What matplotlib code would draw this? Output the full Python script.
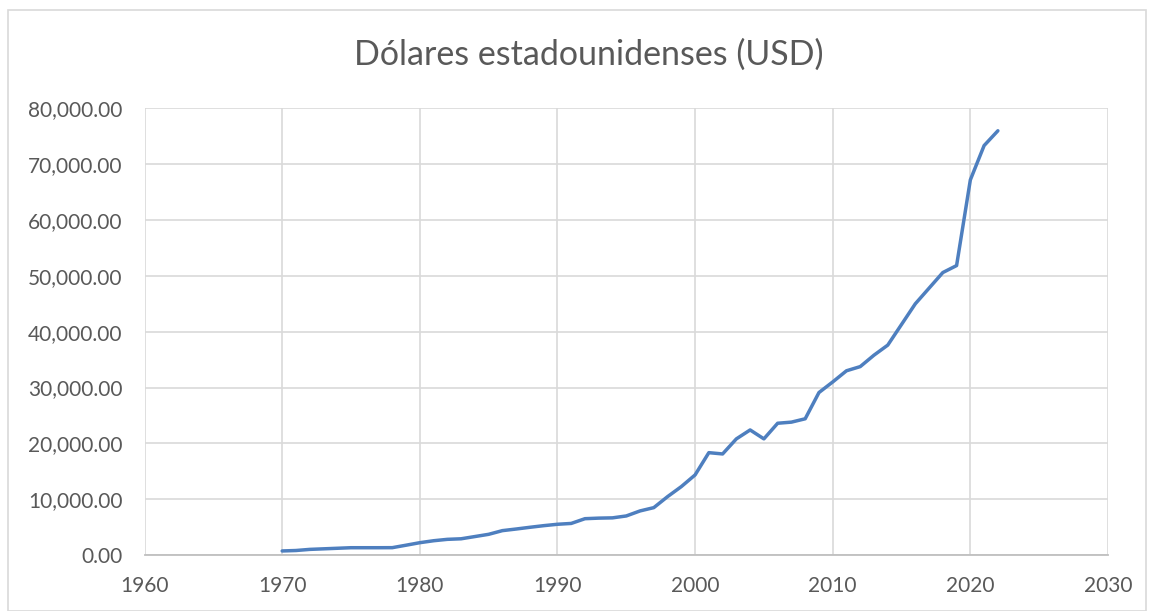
import matplotlib.pyplot as plt
from matplotlib.patches import Rectangle
from matplotlib.ticker import FuncFormatter

years = list(range(1970, 2023))
usd = [
    720, 800, 1000, 1100, 1200, 1300, 1300, 1300, 1310, 1750,
    2200, 2550, 2800, 2900, 3300, 3700, 4360, 4650, 4960, 5250,
    5500, 5650, 6500, 6600, 6650, 6990, 7890, 8480, 10450, 12250,
    14340, 18330, 18100, 20800, 22400, 20800, 23600, 23800, 24400, 29100,
    31000, 33000, 33750, 35800, 37600, 41300, 45000, 47800, 50600, 51850,
    67200, 73350, 76000,
]
title = "Dólares estadounidenses (USD)"

plt.rcParams["font.family"] = ["Lato", "DejaVu Sans"]
text_color = "#595959"
grid_color = "#D9D9D9"

fig = plt.figure(figsize=(11.49, 6.11), dpi=100)
fig.patches.append(Rectangle((8 / 1149, 0), 1138 / 1149, 601 / 611,
                             transform=fig.transFigure, fill=False,
                             edgecolor=grid_color, linewidth=1.2))

ax = fig.add_axes([0.1258, 0.0917, 0.8385, 0.7308])
ax.plot(years, usd, color="#4E7FBF", linewidth=2.5, solid_capstyle="round")

ax.set_xlim(1960, 2030)
ax.set_ylim(0, 80000)
ax.set_xticks(range(1960, 2031, 10))
ax.set_yticks(range(0, 80001, 10000))
ax.yaxis.set_major_formatter(FuncFormatter(lambda v, p: f"{v:,.2f}"))
ax.grid(True, color=grid_color, linewidth=1.2)
ax.set_axisbelow(True)
for side in ["left", "right", "top"]:
    ax.spines[side].set_visible(False)
ax.spines["bottom"].set_color("#BFBFBF")
ax.spines["bottom"].set_linewidth(1.3)
ax.tick_params(length=0, labelsize=15, labelcolor=text_color)
ax.tick_params(axis="y", pad=16)
ax.tick_params(axis="x", pad=15)

fig.text(0.5126, 0.91, title, ha="center", va="center", fontsize=24.5,
         color=text_color)

fig.savefig("out.png", dpi=100)
